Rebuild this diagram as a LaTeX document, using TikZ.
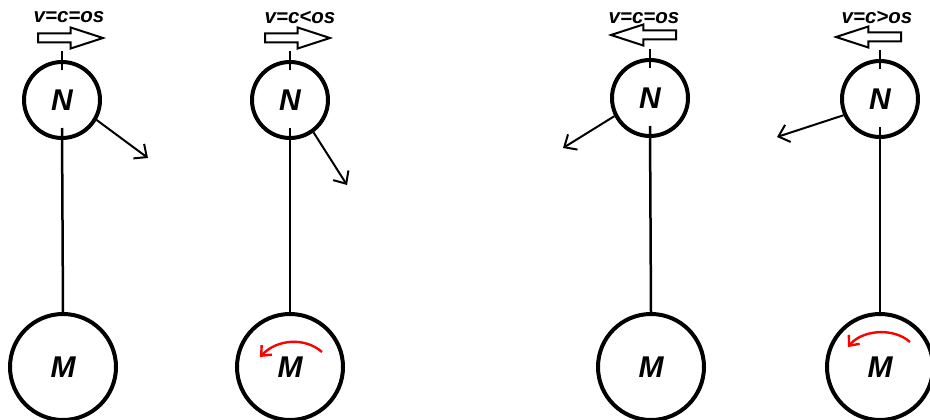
\documentclass[tikz,border=0pt]{standalone}
\usepackage{fontspec}
\setmainfont{Liberation Sans}
\usetikzlibrary{arrows.meta,shapes.arrows}

\begin{document}
\begin{tikzpicture}[x=1pt,y=-1pt,
        ball/.style={draw,circle,line width=4pt,inner sep=0pt,font=\fontsize{30}{30}\selectfont\bfseries\itshape},
        push/.style={draw,single arrow,line width=2pt,inner sep=3.5pt,minimum height=65pt,single arrow head extend=6pt,single arrow tip angle=36},
        lbl/.style={font=\fontsize{20.5}{20}\selectfont\bfseries\itshape},
        vec/.style={line width=2pt,-{Straight Barb[length=10pt,width=18pt]}},
        spin/.style={red,line width=2.4pt,-{Straight Barb[length=8pt,width=14pt]}}]
    \useasboundingbox (0,0) rectangle (930,420);
    % nodes
    \node[ball,minimum size=76pt] (N1) at (62,100) {N};
    \node[ball,minimum size=76pt] (N2) at (290,100) {N};
    \node[ball,minimum size=76pt] (N3) at (650,98) {N};
    \node[ball,minimum size=76pt] (N4) at (880,99) {N};
    \node[ball,minimum size=106pt] (M1) at (63,367) {M};
    \node[ball,minimum size=106pt] (M2) at (290,367) {\raisebox{-6pt}{M}};
    \node[ball,minimum size=106pt] (M3) at (651,367) {M};
    \node[ball,minimum size=106pt] (M4) at (880,367) {M};
    % rods
    \foreach \i in {1,...,4}{
        \draw[line width=2.5pt] ([yshift=9pt]N\i.north) -- ([yshift=-10pt]N\i.north);
        \draw[line width=2.5pt] ([yshift=12pt]N\i.south) -- (M\i.north);
    }
    % speeds
    \node[lbl] (t1) at (69,17) {v=c=os};
    \node[lbl] (t2) at (300,17) {v=c<os};
    \node[lbl] (t3) at (644,18) {v=c=os};
    \node[lbl] (t4) at (877,17) {v=c>os};
    \node[push,anchor=tail] (p1) at (37,38) {};
    \node[push,anchor=tail] (p2) at (264,38) {};
    \node[push,anchor=tail,shape border rotate=180] (p3) at (677,35) {};
    \node[push,anchor=tail,shape border rotate=180] (p4) at (902,37) {};
    % forces
    \coordinate (a1) at (148,158);
    \coordinate (a2) at (347,185);
    \coordinate (a3) at (563,148);
    \coordinate (a4) at (777,137);
    \draw[vec] (N1.-30) -- (a1);
    \draw[vec] (N2.-54) -- (a2);
    \draw[vec] (N3.207) -- (a3);
    \draw[vec] (N4.204) -- (a4);
    \draw[spin] (322,352) .. controls (305,337) and (277,339) .. (260,357);
    \draw[spin] (910,342) .. controls (893,327) and (862,330) .. (848,347);
\end{tikzpicture}
\end{document}
